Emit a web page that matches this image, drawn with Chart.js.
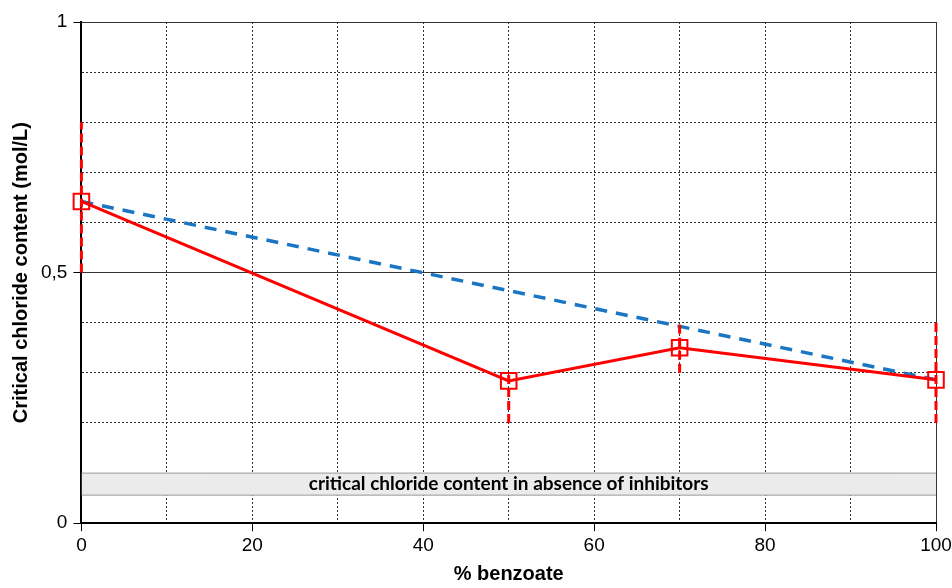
<!DOCTYPE html>
<html lang="en">
<head>
<meta charset="UTF-8">
<title>Critical chloride content vs benzoate</title>
<style>
  html, body { margin: 0; padding: 0; background: #fff; }
  #wrap { width: 952px; height: 588px; }
</style>
</head>
<body>
<div id="wrap"><canvas id="chart" width="952" height="588"></canvas></div>
<script src="https://cdn.jsdelivr.net/npm/chart.js"></script>
<script>
// measured values
const benzoatePct = [0, 50, 70, 100];
const criticalCl = [0.642, 0.284, 0.35, 0.286];
const errLow = [0.5, 0.2, 0.3, 0.2];
const errHigh = [0.8, 0.3, 0.4, 0.4];
// dashed reference line (linear mix)
const trendX = [0, 100];
const trendY = [0.642, 0.286];
// band: critical chloride content without inhibitors
const bandX = [0, 100];
const bandLow = [0.056, 0.056];
const bandHigh = [0.1, 0.1];
const bandLabel = 'critical chloride content in absence of inhibitors';
const yLabels = { 0: '0', 0.5: '0,5', 1: '1' };

const pts = (xs, ys) => xs.map((x, i) => ({ x: x, y: ys[i] }));

const errData = [];
benzoatePct.forEach((x, i) => {
  errData.push({ x: x, y: errLow[i] }, { x: x, y: errHigh[i] }, { x: x, y: null });
});

const bandText = {
  id: 'bandText',
  afterDatasetsDraw(chart) {
    const { ctx, scales } = chart;
    const xs = scales.x, ys = scales.y;
    const cx = xs.getPixelForValue((bandX[0] + bandX[1]) / 2);
    const cy = ys.getPixelForValue((bandLow[0] + bandHigh[0]) / 2);
    ctx.save();
    ctx.font = 'bold 19px Lato, "Open Sans", sans-serif';
    ctx.fillStyle = '#000';
    ctx.textAlign = 'center';
    ctx.textBaseline = 'middle';
    ctx.fillText(bandLabel, cx, cy);
    ctx.restore();
  }
};

const isMajorY = v => Math.abs(v - 0.5) < 1e-6 || Math.abs(v) < 1e-6 || Math.abs(v - 1) < 1e-6;
const axisFont = '"Liberation Sans", Arial, sans-serif';

new Chart(document.getElementById('chart'), {
  type: 'line',
  data: {
    datasets: [
      {
        data: pts(bandX, bandLow),
        borderColor: '#9a9a9a', borderWidth: 1,
        pointRadius: 0, fill: false, order: 5
      },
      {
        data: pts(bandX, bandHigh),
        borderColor: '#9a9a9a', borderWidth: 1,
        backgroundColor: '#ebebeb',
        pointRadius: 0, fill: '-1', order: 5
      },
      {
        data: pts(trendX, trendY),
        borderColor: '#1a75c2', borderWidth: 3.5, borderDash: [12, 9],
        pointRadius: 0, fill: false, order: 3
      },
      {
        data: errData,
        borderColor: '#ff0000', borderWidth: 3, borderDash: [9, 4],
        pointRadius: 0, fill: false, spanGaps: false, clip: false, order: 2
      },
      {
        data: pts(benzoatePct, criticalCl),
        borderColor: '#ff0000', borderWidth: 3,
        pointStyle: 'rect', pointRadius: 11,
        pointBackgroundColor: 'rgba(255,255,255,0)',
        pointBorderColor: '#ff0000', pointBorderWidth: 2,
        fill: false, clip: false, order: 1
      }
    ]
  },
  options: {
    responsive: false,
    animation: false,
    layout: { padding: { top: 22, right: 0, left: 9, bottom: 2 } },
    plugins: { legend: { display: false }, tooltip: { enabled: false } },
    scales: {
      x: {
        type: 'linear', min: 0, max: 100,
        afterFit: axis => { axis.paddingRight = 16; },
        ticks: {
          stepSize: 10, autoSkip: false, maxRotation: 0, color: '#000',
          font: { family: axisFont, size: 19 },
          callback: v => (v % 20 === 0 ? String(v) : '')
        },
        grid: {
          color: ctx => (ctx.tick && ctx.tick.value === 0 ? 'rgba(0,0,0,0)' : '#333'),
          lineWidth: 1,
          tickLength: 8,
          tickColor: ctx => (ctx.tick && ctx.tick.value % 20 === 0 ? '#000' : 'rgba(0,0,0,0)')
        },
        border: {
          color: '#000', width: 2,
          dash: ctx => (ctx.tick && ctx.tick.value === 100 ? [] : [2, 2])
        },
        title: {
          display: true, text: '% benzoate', color: '#000',
          font: { family: axisFont, size: 20, weight: 'bold' },
          padding: { top: 2, bottom: 0 }
        }
      },
      y: {
        type: 'linear', min: 0, max: 1,
        afterBuildTicks: axis => {
          axis.ticks = [];
          for (let i = 0; i <= 10; i++) axis.ticks.push({ value: i / 10 });
        },
        ticks: {
          autoSkip: false, color: '#000', padding: 6,
          font: { family: axisFont, size: 19 },
          callback: v => {
            const k = Math.round(v * 10) / 10;
            return yLabels[k] !== undefined ? yLabels[k] : '';
          }
        },
        grid: {
          color: ctx => (ctx.tick && ctx.tick.value === 0 ? 'rgba(0,0,0,0)' : '#333'),
          lineWidth: 1,
          tickLength: 8,
          tickColor: ctx => (ctx.tick && isMajorY(ctx.tick.value) ? '#000' : 'rgba(0,0,0,0)')
        },
        border: {
          color: '#000', width: 2,
          dash: ctx => (ctx.tick && isMajorY(ctx.tick.value) ? [] : [2, 2])
        },
        title: {
          display: true, text: 'Critical chloride content (mol/L)', color: '#000',
          font: { family: axisFont, size: 20, weight: 'bold' },
          padding: { top: 0, bottom: 2 }
        }
      }
    }
  },
  plugins: [bandText]
});
</script>
</body>
</html>
